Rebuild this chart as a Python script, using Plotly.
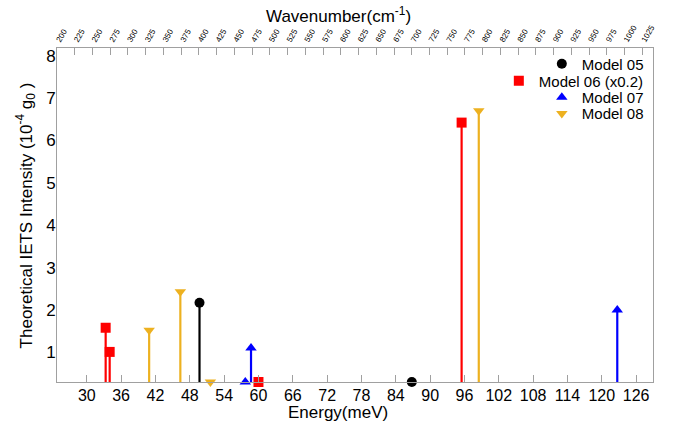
import numpy as np
import plotly.graph_objects as go

# Vibrational modes: energy (meV) and theoretical IETS intensity (1e-4 g0)
model05_energy = [49.7, 86.8]
model05_intensity = [2.17, 0.3]

model06_energy = [33.3, 34.0, 60.0, 95.5]
model06_intensity = [1.58, 1.01, 0.3, 6.42]

model07_energy = [57.7, 58.7, 122.7]
model07_intensity = [0.3, 1.10, 2.00]

model08_energy = [40.9, 46.35, 51.6, 98.5]
model08_intensity = [1.52, 2.43, 0.3, 6.70]

series_names = ["Model 05", "Model 06 (x0.2)", "Model 07", "Model 08"]
series_colors = ["#000000", "#FF0000", "#0000FF", "#EDB120"]
series_symbols = ["circle", "square", "triangle-up", "triangle-down"]

energy_ticks = list(range(30, 127, 6))
wavenumber_ticks = list(range(200, 1026, 25))
intensity_ticks = list(range(1, 9))

MEV_TO_CM = 8.06554
WN_MIN, WN_MAX = 200, 1040
Y_MIN, Y_MAX = 0.3, 8.18

FONT = "Liberation Sans, Arial, sans-serif"
AXIS_GRAY = "#A0A0A0"

fig = go.Figure()

series = [
    (model05_energy, model05_intensity),
    (model06_energy, model06_intensity),
    (model07_energy, model07_intensity),
    (model08_energy, model08_intensity),
]

for i, (xs, ys) in enumerate(series):
    ys = np.array(ys)
    fig.add_trace(go.Scatter(
        x=xs, y=ys, mode="markers", name=series_names[i],
        marker=dict(symbol=series_symbols[i], color=series_colors[i], size=10,
                    line=dict(width=0)),
        error_y=dict(type="data", symmetric=False, array=[0] * len(ys),
                     arrayminus=list(ys - Y_MIN), color=series_colors[i],
                     thickness=2.2, width=0),
        cliponaxis=False,
        legend="legend" if i == 0 else f"legend{i + 1}",
    ))

# invisible trace to activate the top wavenumber axis
fig.add_trace(go.Scatter(x=[WN_MIN], y=[Y_MIN], xaxis="x2", mode="markers",
                         marker=dict(opacity=0), showlegend=False, hoverinfo="skip"))

legend_rows = [0.952, 0.901, 0.852, 0.803]
legend_common = dict(x=0.993, xanchor="right", yanchor="middle", bgcolor="rgba(0,0,0,0)",
                     font=dict(family=FONT, size=15, color="#000"),
                     itemwidth=30, tracegroupgap=0)
layout_legends = {}
for i, yy in enumerate(legend_rows):
    key = "legend" if i == 0 else f"legend{i + 1}"
    layout_legends[key] = dict(y=yy, **legend_common)

fig.update_layout(
    width=675, height=421,
    margin=dict(l=57, r=22, t=48, b=39),
    paper_bgcolor="white", plot_bgcolor="white",
    font=dict(family=FONT, color="#000"),
    showlegend=True,
    xaxis=dict(
        range=[WN_MIN / MEV_TO_CM, WN_MAX / MEV_TO_CM],
        tickvals=energy_ticks, ticks="inside", ticklen=7, tickcolor=AXIS_GRAY,
        showline=True, linecolor=AXIS_GRAY, linewidth=1, mirror=True,
        showgrid=False, zeroline=False,
        tickfont=dict(size=16), ticklabelstandoff=-1,
    ),
    xaxis2=dict(
        range=[WN_MIN, WN_MAX], overlaying="x", side="top",
        tickvals=wavenumber_ticks, ticks="inside", ticklen=7, tickcolor=AXIS_GRAY,
        tickangle=-60, tickfont=dict(size=8), ticklabelstandoff=-1,
        showline=True, linecolor=AXIS_GRAY, showgrid=False, zeroline=False,
    ),
    yaxis=dict(
        range=[Y_MIN, Y_MAX], tickvals=intensity_ticks, ticks="",
        showline=True, linecolor=AXIS_GRAY, linewidth=1, mirror=True,
        showgrid=False, zeroline=False, tickfont=dict(size=17),
        ticklabelstandoff=-3,
    ),
    annotations=[
        dict(text="Energy(meV)", xref="paper", yref="paper", x=0.472, y=-0.092,
             xanchor="center", yanchor="middle", showarrow=False,
             font=dict(size=17)),
        dict(text="Wavenumber(cm<sup>-1</sup>)", xref="paper", yref="paper",
             x=0.472, y=1.1, xanchor="center", yanchor="middle", showarrow=False,
             font=dict(size=17)),
        dict(text="Theoretical IETS Intensity (10<sup>-4</sup> g<sub>0</sub> )",
             xref="paper", yref="paper", x=-0.053, y=0.5, textangle=-90,
             xanchor="center", yanchor="middle", showarrow=False,
             font=dict(size=17)),
    ],
    **layout_legends,
)

fig.write_html("out.html")
